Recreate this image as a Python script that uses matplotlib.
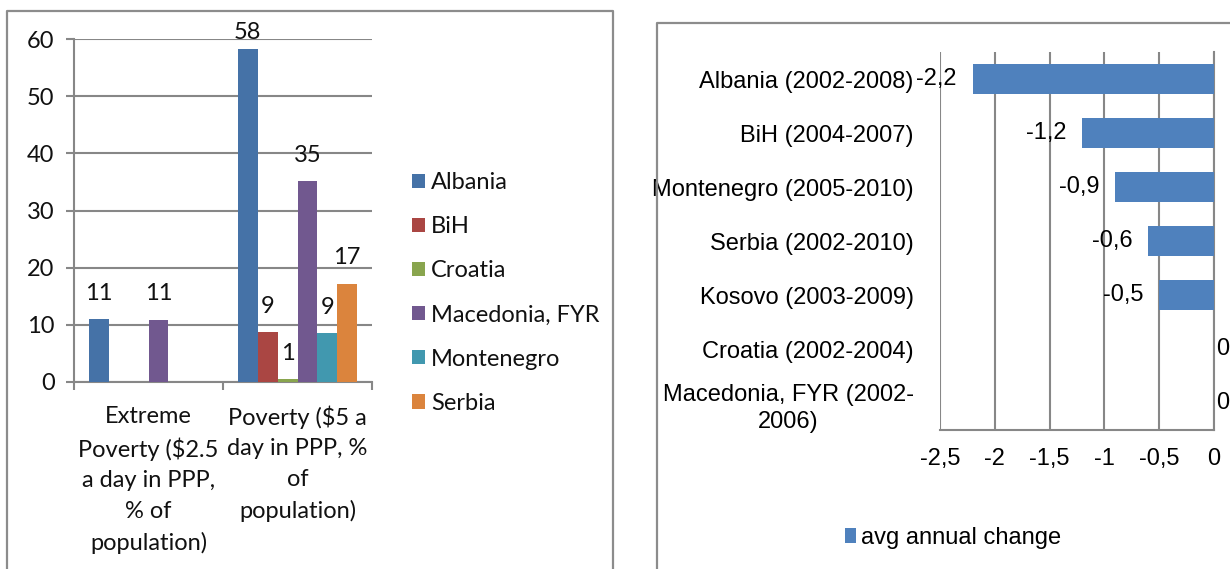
import matplotlib
matplotlib.use("Agg")
import matplotlib.pyplot as plt
from matplotlib.ticker import FuncFormatter
import numpy as np

# left chart: poverty rates by country
categories = ["Extreme\nPoverty ($2.5\na day in PPP,\n% of\npopulation)",
              "Poverty ($5 a\nday in PPP, %\nof\npopulation)"]
countries = ["Albania", "BiH", "Croatia", "Macedonia, FYR", "Montenegro", "Serbia"]
extreme = [11.0, np.nan, np.nan, 10.9, np.nan, np.nan]
poverty = [58.3, 8.7, 0.5, 35.1, 8.5, 17.2]
country_colors = ["#4572A7", "#AA4643", "#89A54E", "#71588F", "#4198AF", "#DB843D"]

# right chart: average annual change
periods = ["Albania (2002-2008)", "BiH (2004-2007)", "Montenegro (2005-2010)",
           "Serbia (2002-2010)", "Kosovo (2003-2009)", "Croatia (2002-2004)",
           "Macedonia, FYR (2002-\n2006)"]
change = [-2.2, -1.2, -0.9, -0.6, -0.5, 0.0, 0.0]
x_ticks = [-2.5, -2, -1.5, -1, -0.5, 0]

W, H = 1230, 569
GRID = "#878787"


def fx(px):
    return px / W


def fy(py):
    return 1 - py / H


def comma(v):
    s = ("%g" % v)
    return s.replace(".", ",")


fig = plt.figure(figsize=(W / 100, H / 100), dpi=100)

# panel frames
for xs, ys in [([7, 7, 613, 613], [600, 11, 11, 600]),
               ([657, 657, 1240], [600, 23, 23])]:
    fig.add_artist(plt.Line2D([fx(v) for v in xs], [fy(v) for v in ys],
                              transform=fig.transFigure, color="#8c8c8c", lw=1.6))

# ---- left chart
lfont = "Lato"
fs = 17
ax = fig.add_axes([fx(74), fy(382), fx(372) - fx(74), fy(39) - fy(382)])
w = 1 / 7.5
groups = [extreme, poverty]
for i, name in enumerate(countries):
    xs = np.arange(len(groups)) + (i - 2.5) * w
    vals = [g[i] for g in groups]
    ax.bar(xs, vals, width=w, color=country_colors[i], label=name, zorder=3)
    for x, v in zip(xs, vals):
        if np.isnan(v):
            continue
        ax.text(x, min(v + 4.5, 61.2), str(int(v + 0.5)), ha="center", va="center",
                fontsize=fs, family=lfont, color="#111111", clip_on=False)

ax.set_xlim(-0.5, 1.5)
ax.set_ylim(0, 60)
ax.set_yticks(range(0, 61, 10))
ax.yaxis.grid(True, color=GRID, lw=1.5, zorder=0)
ax.set_axisbelow(True)
for side in ["top", "right"]:
    ax.spines[side].set_visible(False)
for side in ["left", "bottom"]:
    ax.spines[side].set_color(GRID)
    ax.spines[side].set_linewidth(1.5)
ax.tick_params(axis="y", length=6, width=1.5, color=GRID, pad=8,
               labelsize=fs, labelcolor="#111111")
ax.set_xticks([0, 1])
ax.set_xticklabels(categories, fontsize=fs, family=lfont, linespacing=1.55,
                   color="#111111")
ax.set_xticks([-0.5, 0.5, 1.5], minor=True)
ax.tick_params(axis="x", which="major", length=0, pad=17)
ax.tick_params(axis="x", which="minor", length=6, width=1.5, color=GRID)
for t in ax.get_yticklabels():
    t.set_family(lfont)
leg = ax.legend(loc="center left", bbox_to_anchor=(fx(412), fy(293)),
                bbox_transform=fig.transFigure, frameon=False, prop={"family": lfont, "size": fs},
                handlelength=0.55, handleheight=0.55, handletextpad=0.25,
                labelspacing=0.98, borderpad=0, borderaxespad=0)
for t in leg.get_texts():
    t.set_color("#111111")

# ---- right chart
rfont = "Liberation Sans"
rfs = 17
ax2 = fig.add_axes([fx(940), fy(430), fx(1214) - fx(940), fy(52) - fy(430)])
ys = np.arange(len(periods))
ax2.barh(ys, change, height=1 / 1.75, color="#4F81BD", label="avg annual change", zorder=3)
for y, v in zip(ys, change):
    if v < 0:
        ax2.annotate(comma(v), (v, y), xytext=(-16, 0), textcoords="offset pixels",
                     ha="right", va="center", fontsize=rfs, family=rfont, color="black")
    else:
        ax2.annotate(comma(v), (v, y), xytext=(2, 0), textcoords="offset pixels",
                     ha="left", va="center", fontsize=rfs, family=rfont, color="black",
                     annotation_clip=False)
ax2.set_ylim(len(periods) - 0.5, -0.5)
ax2.set_xlim(-2.5, 0)
ax2.set_xticks(x_ticks)
ax2.xaxis.set_major_formatter(FuncFormatter(lambda v, p: comma(v)))
ax2.xaxis.grid(True, color=GRID, lw=1.5, zorder=0)
ax2.set_yticks(ys)
ax2.set_yticklabels(periods, fontsize=rfs, family=rfont, linespacing=1.3)
for t in ax2.get_yticklabels():
    t.set_multialignment("center")
for t in ax2.get_xticklabels():
    t.set_family(rfont)
ax2.tick_params(axis="x", length=0, pad=13, labelsize=rfs)
ax2.tick_params(axis="y", length=0, pad=19)
ax2.spines["top"].set_visible(False)
ax2.spines["left"].set_visible(False)
for side in ["bottom", "right"]:
    ax2.spines[side].set_color(GRID)
    ax2.spines[side].set_linewidth(1.5)
ax2.legend(loc="center", bbox_to_anchor=(fx(953), fy(538)), bbox_transform=fig.transFigure,
           frameon=False, prop={"family": rfont, "size": rfs},
           handlelength=0.5, handleheight=0.6, handletextpad=0.2, borderpad=0)

fig.savefig("out.png", dpi=100)
